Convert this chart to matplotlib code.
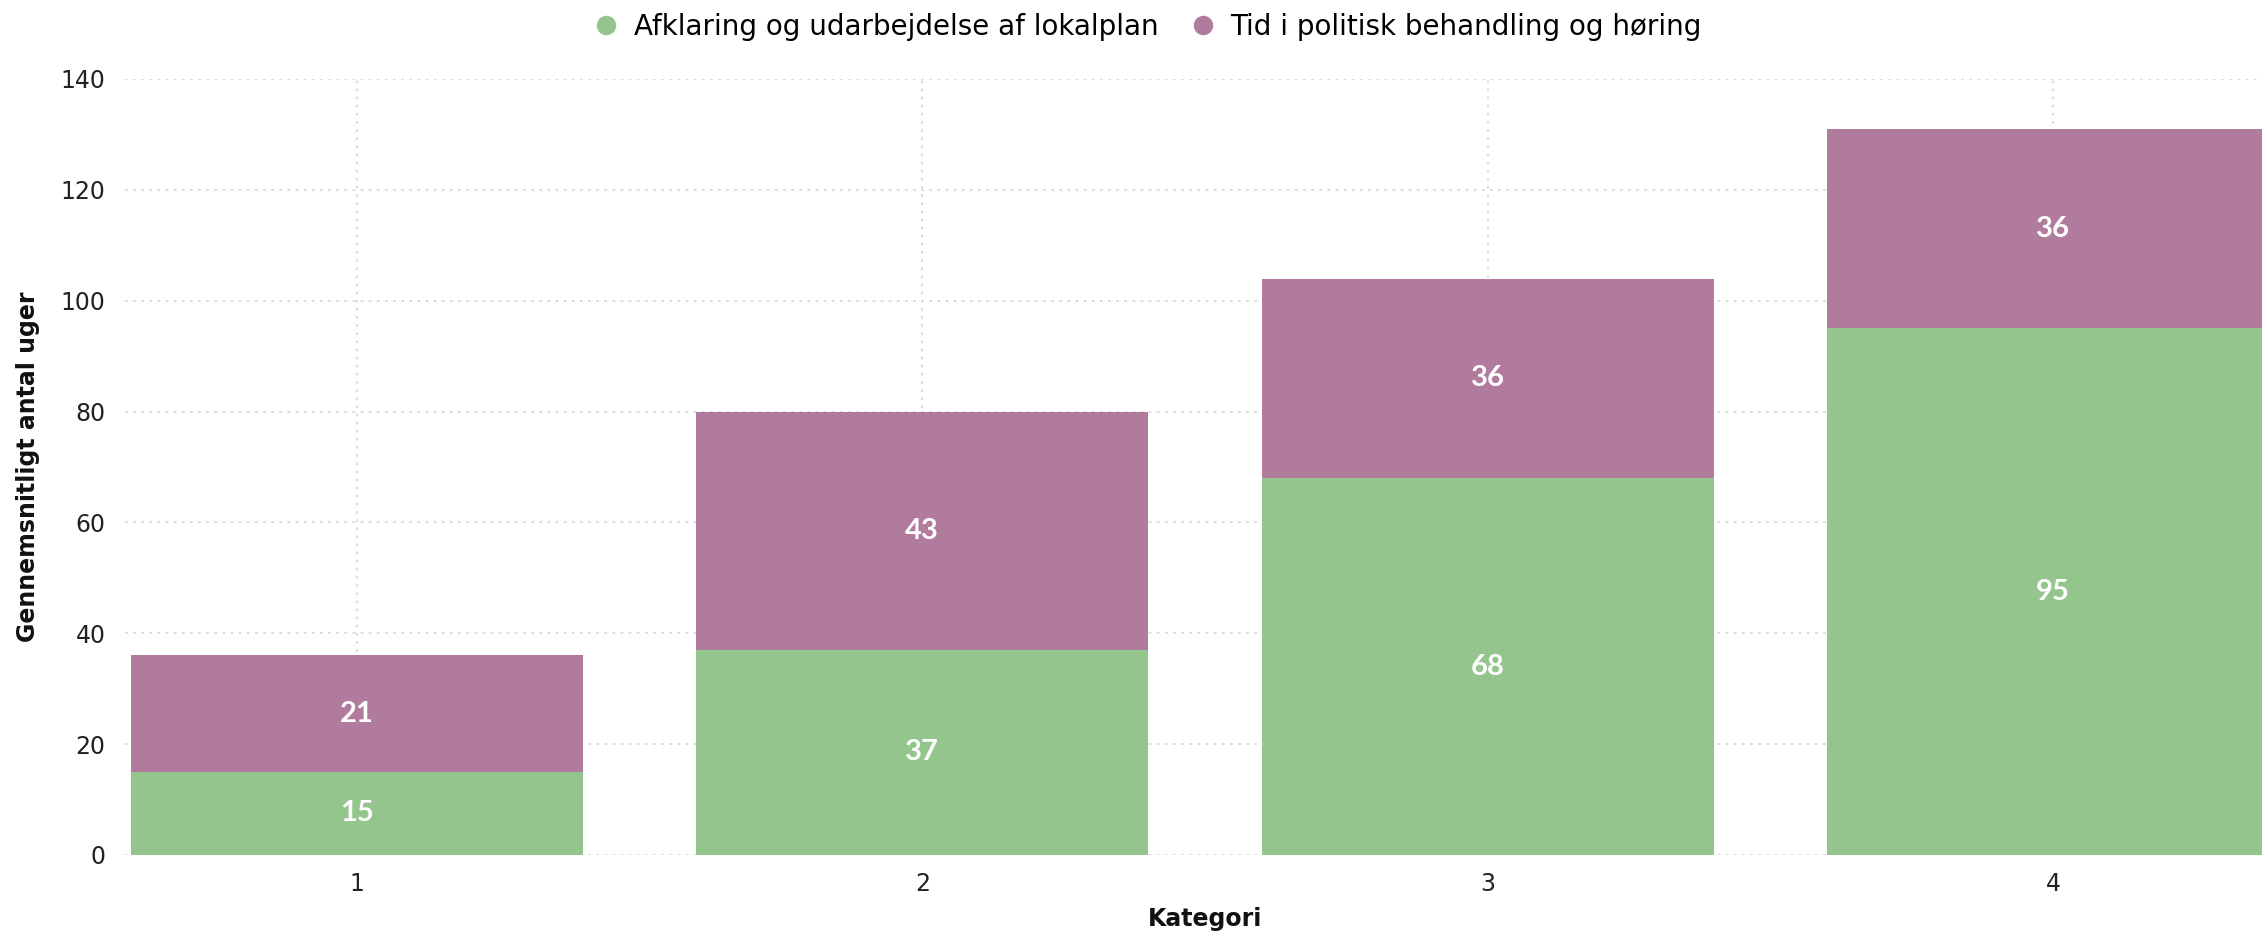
import matplotlib
matplotlib.use("Agg")
import matplotlib.pyplot as plt
from matplotlib.lines import Line2D
import numpy as np

categories = ["1", "2", "3", "4"]
afklaring = [15, 37, 68, 95]
politisk = [21, 43, 36, 36]
series_names = ["Afklaring og udarbejdelse af lokalplan",
                "Tid i politisk behandling og høring"]
y_ticks = [0, 20, 40, 60, 80, 100, 120, 140]

GREEN = "#93C58C"
PURPLE = "#B17B9D"
NARROW = ["Liberation Sans Narrow", "DejaVu Sans"]

W, H = 2262, 935
fig = plt.figure(figsize=(W / 100, H / 100), dpi=100)
left, right, bottom, top = 125, 2285, 935 - 855, 935 - 79
ax = fig.add_axes([left / W, bottom / H, (right - left) / W, (top - bottom) / H])

x = np.arange(1, len(categories) + 1)
ax.bar(x, afklaring, width=0.8, color=GREEN, zorder=2)
ax.bar(x, politisk, width=0.8, bottom=afklaring, color=PURPLE, zorder=2)

for xi, a, p in zip(x, afklaring, politisk):
    ax.text(xi, a / 2, f"{a}", ha="center", va="center", color="white",
            fontsize=21, fontfamily="Lato", fontweight="bold", zorder=3)
    ax.text(xi, a + p / 2, f"{p}", ha="center", va="center", color="white",
            fontsize=21, fontfamily="Lato", fontweight="bold", zorder=3)

ax.set_xlim(0.59, 4.41)
ax.set_ylim(0, 140)
ax.set_yticks(y_ticks)
ax.set_xticks(x)
ax.set_xticklabels(categories)
for lbl in ax.get_xticklabels() + ax.get_yticklabels():
    lbl.set_fontfamily(NARROW)
    lbl.set_fontsize(17)
    lbl.set_color("#222222")
ax.tick_params(axis="y", length=0, pad=14)
ax.tick_params(axis="x", length=0, pad=12)

for s in ax.spines.values():
    s.set_visible(False)
ax.grid(True, color="#d9d9d9", linestyle=(0, (1.5, 3)), linewidth=1.3, zorder=0)
ax.set_axisbelow(True)

ax.set_xlabel("Kategori", fontsize=17, fontweight="bold", fontfamily="DejaVu Sans",
              color="#111111")
ax.xaxis.set_label_coords(0.5, -(919 - 855) / (855 - 79))
ax.xaxis.label.set_va("center")
ax.set_ylabel("Gennemsnitligt antal uger", fontsize=17, fontweight="bold",
              fontfamily="DejaVu Sans", color="#111111")
ax.yaxis.set_label_coords(-(left - 28) / (right - left), 0.5)
ax.yaxis.label.set_va("center")

handles = [Line2D([], [], marker="o", linestyle="", markersize=13, color=GREEN),
           Line2D([], [], marker="o", linestyle="", markersize=13, color=PURPLE)]
fig.legend(handles, series_names, loc="center", bbox_to_anchor=(1140 / W, 1 - 27 / H),
           ncol=2, frameon=False, handletextpad=0.0, columnspacing=0.6,
           prop={"family": NARROW, "size": 20})

fig.savefig("out.png", dpi=100, facecolor="white")
